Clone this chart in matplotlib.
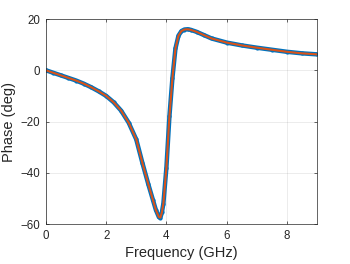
import matplotlib
matplotlib.use("Agg")
import matplotlib.pyplot as plt

# values (GHz, deg)
freq = [0, 0.25, 0.5, 0.75, 1.0, 1.25, 1.5, 1.75, 2.0, 2.25, 2.5, 2.75, 3.0,
        3.2, 3.4, 3.55, 3.65, 3.75, 3.8, 3.85, 3.9, 4.0, 4.1, 4.2, 4.3, 4.4,
        4.5, 4.6, 4.7, 4.8, 5.0, 5.25, 5.5, 6.0, 6.5, 7.0, 7.5, 8.0, 8.5, 9.0]
phase_meas = [0, -1.0, -2.0, -3.0, -4.0, -5.2, -6.6, -8.2, -10.0, -12.5, -15.8,
              -20.5, -27.0, -36.0, -44.5, -50.5, -54.5, -57.3, -57.5, -55.5,
              -52.0, -38.0, -18.0, -3.0, 8.5, 13.5, 15.3, 15.9, 16.0, 15.8,
              15.0, 13.7, 12.4, 10.8, 9.7, 8.8, 8.0, 7.2, 6.6, 6.2]
phase_fit = phase_meas

xticks = [0, 2, 4, 6, 8]
yticks = [-60, -40, -20, 0, 20]

plt.rcParams['font.family'] = ['Liberation Sans', 'DejaVu Sans']
fig = plt.figure(figsize=(3.5, 2.64), dpi=100)
ax = fig.add_axes([0.131, 0.1515, 0.775, 0.7765])

# measured points: dense blue dots, fitted curve on top
ax.plot(freq, phase_meas, color='#0072BD', lw=3.2, marker='.', ms=4,
        solid_capstyle='round')
ax.plot(freq, phase_fit, color='#D95319', lw=1.5)

ax.set_xlim(0, 9)
ax.set_ylim(-60, 20)
ax.set_xticks(xticks)
ax.set_yticks(yticks)
ax.grid(True, color='#262626', alpha=0.12, lw=0.5)
ax.set_axisbelow(True)
ax.tick_params(direction='in', length=2.5, width=0.5, labelsize=8.3,
               colors='#262626', top=True, right=True, pad=4)
for s in ax.spines.values():
    s.set_linewidth(0.5)
    s.set_color('#262626')
ax.set_xlabel('Frequency (GHz)', fontsize=10.5, color='#262626', labelpad=3)
ax.set_ylabel('Phase (deg)', fontsize=10.5, color='#262626', labelpad=3)

fig.savefig('out.png', dpi=100)
